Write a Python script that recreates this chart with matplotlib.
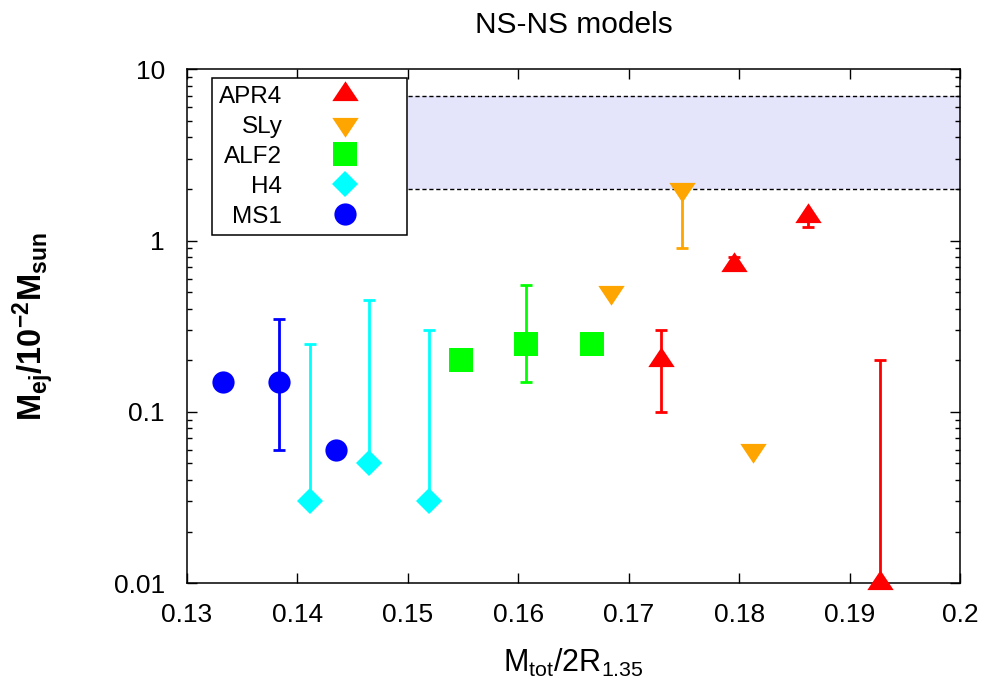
#!/usr/bin/env python3
"""NS-NS models: ejecta mass vs compactness."""
import matplotlib
matplotlib.use("Agg")
import matplotlib.pyplot as plt
import numpy as np

plt.rcParams["font.family"] = ["Liberation Sans", "DejaVu Sans"]
plt.rcParams["mathtext.fontset"] = "custom"
plt.rcParams["mathtext.rm"] = "Liberation Sans"
plt.rcParams["mathtext.it"] = "Liberation Sans"
plt.rcParams["mathtext.bf"] = "Liberation Sans:bold"

# x = Mtot/2R1.35, y = Mej [1e-2 Msun], lo/hi = error bar ends (nan = none)
apr4_x = [0.1729, 0.1795, 0.1862, 0.1928]
apr4_y = [0.20, 0.72, 1.40, 0.010]
apr4_lo = [0.10, 0.70, 1.20, np.nan]
apr4_hi = [0.30, 0.80, np.nan, 0.20]

sly_x = [0.1684, 0.1748, 0.1813]
sly_y = [0.50, 2.0, 0.060]
sly_lo = [np.nan, 0.90, np.nan]
sly_hi = [np.nan, np.nan, np.nan]

alf2_x = [0.1548, 0.1607, 0.1667]
alf2_y = [0.20, 0.25, 0.25]
alf2_lo = [np.nan, 0.15, np.nan]
alf2_hi = [np.nan, 0.55, np.nan]

h4_x = [0.1411, 0.1465, 0.1519]
h4_y = [0.030, 0.050, 0.030]
h4_lo = [np.nan, np.nan, np.nan]
h4_hi = [0.25, 0.45, 0.30]

ms1_x = [0.1333, 0.1383, 0.1435]
ms1_y = [0.15, 0.15, 0.060]
ms1_lo = [np.nan, 0.06, np.nan]
ms1_hi = [np.nan, 0.35, np.nan]

band_x = (0.15, 0.2)
band_y = (2.0, 7.0)

# gnuplot-like flat triangles, centred on the centroid
tri_up = [(-1, -0.5), (1, -0.5), (0, 1.0)]
tri_down = [(-1, 0.5), (1, 0.5), (0, -1.0)]

series = [
    ("APR4", apr4_x, apr4_y, apr4_lo, apr4_hi, "#ff0000", tri_up, 19),
    ("SLy", sly_x, sly_y, sly_lo, sly_hi, "#ffa500", tri_down, 19),
    ("ALF2", alf2_x, alf2_y, alf2_lo, alf2_hi, "#00ff00", "s", 17),
    ("H4", h4_x, h4_y, h4_lo, h4_hi, "#00ffff", "D", 13),
    ("MS1", ms1_x, ms1_y, ms1_lo, ms1_hi, "#0000ff", "o", 16),
]

fig = plt.figure(figsize=(9.92, 6.86), dpi=100)
ax = fig.add_axes([0.1885, 0.150, 0.7792, 0.749])

ax.fill_between(band_x, band_y[0], band_y[1], color="#e4e4fa", lw=0, zorder=0)
for yb in band_y:
    ax.plot(band_x, [yb, yb], color="black", ls=(0, (3, 2)), lw=1.0, zorder=1)

handles = []
for label, x, y, lo, hi, color, marker, ms in series:
    x = np.array(x)
    y = np.array(y)
    lo = np.array(lo)
    hi = np.array(hi)
    mask = ~(np.isnan(lo) & np.isnan(hi))
    if mask.any():
        err_lo = np.where(np.isnan(lo), 0.0, y - lo)[mask]
        err_hi = np.where(np.isnan(hi), 0.0, hi - y)[mask]
        ax.errorbar(x[mask], y[mask], yerr=[err_lo, err_hi], fmt="none",
                    ecolor=color, elinewidth=2.0, capsize=4.5, capthick=2.0, zorder=2)
    h = ax.plot(x, y, ls="none", marker=marker, color=color, ms=ms, mew=0,
                label=label, zorder=3, clip_on=False)[0]
    handles.append(h)

ax.set_yscale("log")
ax.set_xlim(0.13, 0.2)
ax.set_ylim(0.01, 10)
ax.set_xticks(np.arange(0.13, 0.2001, 0.01))
ax.set_xticklabels(["0.13", "0.14", "0.15", "0.16", "0.17", "0.18", "0.19", "0.2"])
ax.set_yticks([0.01, 0.1, 1, 10])
ax.set_yticklabels(["0.01", "0.1", "1", "10"])
ax.tick_params(which="both", direction="in", top=True, right=True, labelsize=19,
               width=1.0)
ax.tick_params(which="major", length=7)
ax.tick_params(which="minor", length=3.6)
ax.tick_params(axis="x", which="major", pad=14)
ax.tick_params(axis="y", which="major", pad=16)
for s in ax.spines.values():
    s.set_linewidth(1.1)

ax.set_title("NS-NS models", fontsize=21.5, pad=26)
ax.set_xlabel(r"$\mathrm{M_{tot}/2R_{1.35}}$", fontsize=22)
ax.xaxis.set_label_coords(0.5, -0.125)
ax.set_ylabel(r"$\mathbf{M_{ej}/10^{-2}M_{sun}}$", fontsize=23.5)
ax.yaxis.set_label_coords(-0.170, 0.5)

leg = ax.legend(handles=handles, loc="upper right", bbox_to_anchor=(0.2846, 0.9825),
                markerfirst=False, fontsize=17.5, frameon=True, fancybox=False,
                edgecolor="black", framealpha=1.0, borderpad=0.3,
                labelspacing=0.33, handletextpad=0.33, handlelength=4.5,
                borderaxespad=0.0)
leg.get_frame().set_linewidth(1.1)

fig.savefig("out.png", dpi=100)
